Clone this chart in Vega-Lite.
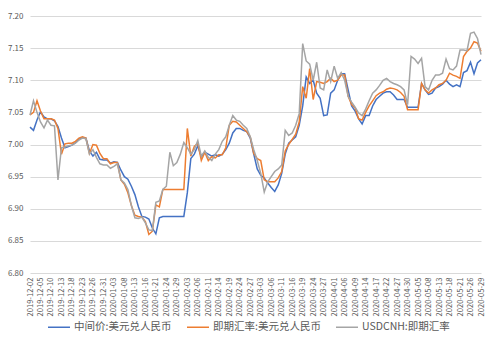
{
  "$schema": "https://vega.github.io/schema/vega-lite/v6.json",
  "width": 451,
  "height": 257,
  "autosize": {"type": "none"},
  "padding": {"left": 30, "top": 16, "right": 18, "bottom": 78},
  "background": "white",
  "config": {"view": {"stroke": null}, "font": "Noto Sans CJK SC"},
  "data": {"values": [
    {"日期":"2019-12-02","中间价:美元兑人民币":7.027,"即期汇率:美元兑人民币":7.046,"USDCNH:即期汇率":7.046},
    {"日期":"2019-12-03","中间价:美元兑人民币":7.022,"即期汇率:美元兑人民币":7.050,"USDCNH:即期汇率":7.068},
    {"日期":"2019-12-04","中间价:美元兑人民币":7.038,"即期汇率:美元兑人民币":7.068,"USDCNH:即期汇率":7.050},
    {"日期":"2019-12-05","中间价:美元兑人民币":7.051,"即期汇率:美元兑人民币":7.052,"USDCNH:即期汇率":7.035},
    {"日期":"2019-12-06","中间价:美元兑人民币":7.043,"即期汇率:美元兑人民币":7.040,"USDCNH:即期汇率":7.026},
    {"日期":"2019-12-09","中间价:美元兑人民币":7.040,"即期汇率:美元兑人民币":7.040,"USDCNH:即期汇率":7.038},
    {"日期":"2019-12-10","中间价:美元兑人民币":7.040,"即期汇率:美元兑人民币":7.040,"USDCNH:即期汇率":7.030},
    {"日期":"2019-12-11","中间价:美元兑人民币":7.037,"即期汇率:美元兑人民币":7.038,"USDCNH:即期汇率":7.029},
    {"日期":"2019-12-12","中间价:美元兑人民币":7.028,"即期汇率:美元兑人民币":7.025,"USDCNH:即期汇率":6.945},
    {"日期":"2019-12-13","中间价:美元兑人民币":7.010,"即期汇率:美元兑人民币":6.985,"USDCNH:即期汇率":6.995},
    {"日期":"2019-12-16","中间价:美元兑人民币":6.995,"即期汇率:美元兑人民币":7.001,"USDCNH:即期汇率":6.996},
    {"日期":"2019-12-17","中间价:美元兑人民币":6.997,"即期汇率:美元兑人民币":7.002,"USDCNH:即期汇率":6.998},
    {"日期":"2019-12-18","中间价:美元兑人民币":6.999,"即期汇率:美元兑人民币":7.002,"USDCNH:即期汇率":6.999},
    {"日期":"2019-12-19","中间价:美元兑人民币":7.003,"即期汇率:美元兑人民币":7.005,"USDCNH:即期汇率":7.002},
    {"日期":"2019-12-20","中间价:美元兑人民币":7.008,"即期汇率:美元兑人民币":7.010,"USDCNH:即期汇率":7.007},
    {"日期":"2019-12-23","中间价:美元兑人民币":7.011,"即期汇率:美元兑人民币":7.012,"USDCNH:即期汇率":7.010},
    {"日期":"2019-12-24","中间价:美元兑人民币":7.010,"即期汇率:美元兑人民币":7.010,"USDCNH:即期汇率":7.009},
    {"日期":"2019-12-25","中间价:美元兑人民币":6.990,"即期汇率:美元兑人民币":6.986,"USDCNH:即期汇率":6.985},
    {"日期":"2019-12-26","中间价:美元兑人民币":6.982,"即期汇率:美元兑人民币":7.000,"USDCNH:即期汇率":6.992},
    {"日期":"2019-12-27","中间价:美元兑人民币":6.988,"即期汇率:美元兑人民币":6.999,"USDCNH:即期汇率":6.980},
    {"日期":"2019-12-30","中间价:美元兑人民币":6.977,"即期汇率:美元兑人民币":6.986,"USDCNH:即期汇率":6.970},
    {"日期":"2019-12-31","中间价:美元兑人民币":6.976,"即期汇率:美元兑人民币":6.978,"USDCNH:即期汇率":6.968},
    {"日期":"2020-01-01","中间价:美元兑人民币":6.976,"即期汇率:美元兑人民币":6.978,"USDCNH:即期汇率":6.968},
    {"日期":"2020-01-02","中间价:美元兑人民币":6.971,"即期汇率:美元兑人民币":6.970,"USDCNH:即期汇率":6.963},
    {"日期":"2020-01-03","中间价:美元兑人民币":6.973,"即期汇率:美元兑人民币":6.972,"USDCNH:即期汇率":6.966},
    {"日期":"2020-01-06","中间价:美元兑人民币":6.972,"即期汇率:美元兑人民币":6.972,"USDCNH:即期汇率":6.970},
    {"日期":"2020-01-07","中间价:美元兑人民币":6.960,"即期汇率:美元兑人民币":6.945,"USDCNH:即期汇率":6.945},
    {"日期":"2020-01-08","中间价:美元兑人民币":6.950,"即期汇率:美元兑人民币":6.938,"USDCNH:即期汇率":6.940},
    {"日期":"2020-01-09","中间价:美元兑人民币":6.946,"即期汇率:美元兑人民币":6.925,"USDCNH:即期汇率":6.930},
    {"日期":"2020-01-10","中间价:美元兑人民币":6.935,"即期汇率:美元兑人民币":6.905,"USDCNH:即期汇率":6.905},
    {"日期":"2020-01-13","中间价:美元兑人民币":6.922,"即期汇率:美元兑人民币":6.890,"USDCNH:即期汇率":6.886},
    {"日期":"2020-01-14","中间价:美元兑人民币":6.903,"即期汇率:美元兑人民币":6.888,"USDCNH:即期汇率":6.885},
    {"日期":"2020-01-15","中间价:美元兑人民币":6.888,"即期汇率:美元兑人民币":6.887,"USDCNH:即期汇率":6.887},
    {"日期":"2020-01-16","中间价:美元兑人民币":6.887,"即期汇率:美元兑人民币":6.880,"USDCNH:即期汇率":6.878},
    {"日期":"2020-01-17","中间价:美元兑人民币":6.884,"即期汇率:美元兑人民币":6.860,"USDCNH:即期汇率":6.867},
    {"日期":"2020-01-20","中间价:美元兑人民币":6.870,"即期汇率:美元兑人民币":6.865,"USDCNH:即期汇率":6.866},
    {"日期":"2020-01-21","中间价:美元兑人民币":6.861,"即期汇率:美元兑人民币":6.906,"USDCNH:即期汇率":6.910},
    {"日期":"2020-01-22","中间价:美元兑人民币":6.886,"即期汇率:美元兑人民币":6.903,"USDCNH:即期汇率":6.912},
    {"日期":"2020-01-23","中间价:美元兑人民币":6.888,"即期汇率:美元兑人民币":6.930,"USDCNH:即期汇率":6.930},
    {"日期":"2020-01-24","中间价:美元兑人民币":6.888,"即期汇率:美元兑人民币":6.930,"USDCNH:即期汇率":6.935},
    {"日期":"2020-01-27","中间价:美元兑人民币":6.888,"即期汇率:美元兑人民币":6.930,"USDCNH:即期汇率":6.988},
    {"日期":"2020-01-28","中间价:美元兑人民币":6.888,"即期汇率:美元兑人民币":6.930,"USDCNH:即期汇率":6.967},
    {"日期":"2020-01-29","中间价:美元兑人民币":6.888,"即期汇率:美元兑人民币":6.930,"USDCNH:即期汇率":6.972},
    {"日期":"2020-01-30","中间价:美元兑人民币":6.888,"即期汇率:美元兑人民币":6.930,"USDCNH:即期汇率":6.985},
    {"日期":"2020-01-31","中间价:美元兑人民币":6.888,"即期汇率:美元兑人民币":6.930,"USDCNH:即期汇率":7.003},
    {"日期":"2020-02-03","中间价:美元兑人民币":6.925,"即期汇率:美元兑人民币":7.025,"USDCNH:即期汇率":6.995},
    {"日期":"2020-02-04","中间价:美元兑人民币":6.978,"即期汇率:美元兑人民币":6.982,"USDCNH:即期汇率":6.985},
    {"日期":"2020-02-05","中间价:美元兑人民币":6.985,"即期汇率:美元兑人民币":6.997,"USDCNH:即期汇率":6.992},
    {"日期":"2020-02-06","中间价:美元兑人民币":6.998,"即期汇率:美元兑人民币":7.002,"USDCNH:即期汇率":7.006},
    {"日期":"2020-02-07","中间价:美元兑人民币":6.981,"即期汇率:美元兑人民币":6.975,"USDCNH:即期汇率":6.982},
    {"日期":"2020-02-10","中间价:美元兑人民币":6.988,"即期汇率:美元兑人民币":6.988,"USDCNH:即期汇率":6.990},
    {"日期":"2020-02-11","中间价:美元兑人民币":6.985,"即期汇率:美元兑人民币":6.975,"USDCNH:即期汇率":6.980},
    {"日期":"2020-02-12","中间价:美元兑人民币":6.982,"即期汇率:美元兑人民币":6.981,"USDCNH:即期汇率":6.975},
    {"日期":"2020-02-13","中间价:美元兑人民币":6.984,"即期汇率:美元兑人民币":6.979,"USDCNH:即期汇率":6.985},
    {"日期":"2020-02-14","中间价:美元兑人民币":6.982,"即期汇率:美元兑人民币":6.984,"USDCNH:即期汇率":6.992},
    {"日期":"2020-02-17","中间价:美元兑人民币":6.985,"即期汇率:美元兑人民币":6.984,"USDCNH:即期汇率":7.005},
    {"日期":"2020-02-18","中间价:美元兑人民币":6.992,"即期汇率:美元兑人民币":6.995,"USDCNH:即期汇率":7.012},
    {"日期":"2020-02-19","中间价:美元兑人民币":7.002,"即期汇率:美元兑人民币":7.030,"USDCNH:即期汇率":7.030},
    {"日期":"2020-02-20","中间价:美元兑人民币":7.018,"即期汇率:美元兑人民币":7.036,"USDCNH:即期汇率":7.045},
    {"日期":"2020-02-21","中间价:美元兑人民币":7.025,"即期汇率:美元兑人民币":7.035,"USDCNH:即期汇率":7.038},
    {"日期":"2020-02-24","中间价:美元兑人民币":7.025,"即期汇率:美元兑人民币":7.030,"USDCNH:即期汇率":7.036},
    {"日期":"2020-02-25","中间价:美元兑人民币":7.022,"即期汇率:美元兑人民币":7.025,"USDCNH:即期汇率":7.030},
    {"日期":"2020-02-26","中间价:美元兑人民币":7.020,"即期汇率:美元兑人民币":7.020,"USDCNH:即期汇率":7.025},
    {"日期":"2020-02-27","中间价:美元兑人民币":7.010,"即期汇率:美元兑人民币":7.012,"USDCNH:即期汇率":7.012},
    {"日期":"2020-02-28","中间价:美元兑人民币":6.985,"即期汇率:美元兑人民币":6.986,"USDCNH:即期汇率":6.992},
    {"日期":"2020-03-02","中间价:美元兑人民币":6.962,"即期汇率:美元兑人民币":6.978,"USDCNH:即期汇率":6.975},
    {"日期":"2020-03-03","中间价:美元兑人民币":6.952,"即期汇率:美元兑人民币":6.975,"USDCNH:即期汇率":6.955},
    {"日期":"2020-03-04","中间价:美元兑人民币":6.948,"即期汇率:美元兑人民币":6.945,"USDCNH:即期汇率":6.926},
    {"日期":"2020-03-05","中间价:美元兑人民币":6.940,"即期汇率:美元兑人民币":6.942,"USDCNH:即期汇率":6.942},
    {"日期":"2020-03-06","中间价:美元兑人民币":6.933,"即期汇率:美元兑人民币":6.942,"USDCNH:即期汇率":6.950},
    {"日期":"2020-03-09","中间价:美元兑人民币":6.927,"即期汇率:美元兑人民币":6.942,"USDCNH:即期汇率":6.958},
    {"日期":"2020-03-10","中间价:美元兑人民币":6.937,"即期汇率:美元兑人民币":6.948,"USDCNH:即期汇率":6.962},
    {"日期":"2020-03-11","中间价:美元兑人民币":6.955,"即期汇率:美元兑人民币":6.958,"USDCNH:即期汇率":6.968},
    {"日期":"2020-03-12","中间价:美元兑人民币":6.985,"即期汇率:美元兑人民币":6.990,"USDCNH:即期汇率":7.022},
    {"日期":"2020-03-13","中间价:美元兑人民币":7.002,"即期汇率:美元兑人民币":7.000,"USDCNH:即期汇率":7.014},
    {"日期":"2020-03-16","中间价:美元兑人民币":7.007,"即期汇率:美元兑人民币":7.008,"USDCNH:即期汇率":7.018},
    {"日期":"2020-03-17","中间价:美元兑人民币":7.012,"即期汇率:美元兑人民币":7.016,"USDCNH:即期汇率":7.030},
    {"日期":"2020-03-18","中间价:美元兑人民币":7.030,"即期汇率:美元兑人民币":7.035,"USDCNH:即期汇率":7.048},
    {"日期":"2020-03-19","中间价:美元兑人民币":7.060,"即期汇率:美元兑人民币":7.090,"USDCNH:即期汇率":7.157},
    {"日期":"2020-03-20","中间价:美元兑人民币":7.105,"即期汇率:美元兑人民币":7.072,"USDCNH:即期汇率":7.130},
    {"日期":"2020-03-23","中间价:美元兑人民币":7.095,"即期汇率:美元兑人民币":7.118,"USDCNH:即期汇率":7.125},
    {"日期":"2020-03-24","中间价:美元兑人民币":7.100,"即期汇率:美元兑人民币":7.070,"USDCNH:即期汇率":7.100},
    {"日期":"2020-03-25","中间价:美元兑人民币":7.080,"即期汇率:美元兑人民币":7.098,"USDCNH:即期汇率":7.128},
    {"日期":"2020-03-26","中间价:美元兑人民币":7.072,"即期汇率:美元兑人民币":7.097,"USDCNH:即期汇率":7.088},
    {"日期":"2020-03-27","中间价:美元兑人民币":7.045,"即期汇率:美元兑人民币":7.095,"USDCNH:即期汇率":7.085},
    {"日期":"2020-03-30","中间价:美元兑人民币":7.046,"即期汇率:美元兑人民币":7.098,"USDCNH:即期汇率":7.116},
    {"日期":"2020-03-31","中间价:美元兑人民币":7.080,"即期汇率:美元兑人民币":7.103,"USDCNH:即期汇率":7.098},
    {"日期":"2020-04-01","中间价:美元兑人民币":7.085,"即期汇率:美元兑人民币":7.098,"USDCNH:即期汇率":7.122},
    {"日期":"2020-04-02","中间价:美元兑人民币":7.100,"即期汇率:美元兑人民币":7.100,"USDCNH:即期汇率":7.103},
    {"日期":"2020-04-03","中间价:美元兑人民币":7.110,"即期汇率:美元兑人民币":7.108,"USDCNH:即期汇率":7.112},
    {"日期":"2020-04-06","中间价:美元兑人民币":7.110,"即期汇率:美元兑人民币":7.108,"USDCNH:即期汇率":7.100},
    {"日期":"2020-04-07","中间价:美元兑人民币":7.085,"即期汇率:美元兑人民币":7.075,"USDCNH:即期汇率":7.075},
    {"日期":"2020-04-08","中间价:美元兑人民币":7.060,"即期汇率:美元兑人民币":7.062,"USDCNH:即期汇率":7.066},
    {"日期":"2020-04-09","中间价:美元兑人民币":7.052,"即期汇率:美元兑人民币":7.057,"USDCNH:即期汇率":7.058},
    {"日期":"2020-04-10","中间价:美元兑人民币":7.040,"即期汇率:美元兑人民币":7.040,"USDCNH:即期汇率":7.049},
    {"日期":"2020-04-13","中间价:美元兑人民币":7.032,"即期汇率:美元兑人民币":7.038,"USDCNH:即期汇率":7.045},
    {"日期":"2020-04-14","中间价:美元兑人民币":7.045,"即期汇率:美元兑人民币":7.050,"USDCNH:即期汇率":7.055},
    {"日期":"2020-04-15","中间价:美元兑人民币":7.045,"即期汇率:美元兑人民币":7.060,"USDCNH:即期汇率":7.068},
    {"日期":"2020-04-16","中间价:美元兑人民币":7.060,"即期汇率:美元兑人民币":7.068,"USDCNH:即期汇率":7.080},
    {"日期":"2020-04-17","中间价:美元兑人民币":7.070,"即期汇率:美元兑人民币":7.076,"USDCNH:即期汇率":7.085},
    {"日期":"2020-04-20","中间价:美元兑人民币":7.075,"即期汇率:美元兑人民币":7.080,"USDCNH:即期汇率":7.092},
    {"日期":"2020-04-21","中间价:美元兑人民币":7.080,"即期汇率:美元兑人民币":7.082,"USDCNH:即期汇率":7.100},
    {"日期":"2020-04-22","中间价:美元兑人民币":7.082,"即期汇率:美元兑人民币":7.086,"USDCNH:即期汇率":7.103},
    {"日期":"2020-04-23","中间价:美元兑人民币":7.082,"即期汇率:美元兑人民币":7.088,"USDCNH:即期汇率":7.098},
    {"日期":"2020-04-24","中间价:美元兑人民币":7.077,"即期汇率:美元兑人民币":7.087,"USDCNH:即期汇率":7.095},
    {"日期":"2020-04-27","中间价:美元兑人民币":7.070,"即期汇率:美元兑人民币":7.085,"USDCNH:即期汇率":7.093},
    {"日期":"2020-04-28","中间价:美元兑人民币":7.070,"即期汇率:美元兑人民币":7.081,"USDCNH:即期汇率":7.090},
    {"日期":"2020-04-29","中间价:美元兑人民币":7.070,"即期汇率:美元兑人民币":7.075,"USDCNH:即期汇率":7.085},
    {"日期":"2020-04-30","中间价:美元兑人民币":7.058,"即期汇率:美元兑人民币":7.054,"USDCNH:即期汇率":7.062},
    {"日期":"2020-05-01","中间价:美元兑人民币":7.058,"即期汇率:美元兑人民币":7.054,"USDCNH:即期汇率":7.137},
    {"日期":"2020-05-04","中间价:美元兑人民币":7.058,"即期汇率:美元兑人民币":7.054,"USDCNH:即期汇率":7.133},
    {"日期":"2020-05-05","中间价:美元兑人民币":7.058,"即期汇率:美元兑人民币":7.054,"USDCNH:即期汇率":7.126},
    {"日期":"2020-05-06","中间价:美元兑人民币":7.095,"即期汇率:美元兑人民币":7.095,"USDCNH:即期汇率":7.134},
    {"日期":"2020-05-07","中间价:美元兑人民币":7.085,"即期汇率:美元兑人民币":7.085,"USDCNH:即期汇率":7.090},
    {"日期":"2020-05-08","中间价:美元兑人民币":7.078,"即期汇率:美元兑人民币":7.080,"USDCNH:即期汇率":7.085},
    {"日期":"2020-05-11","中间价:美元兑人民币":7.080,"即期汇率:美元兑人民币":7.085,"USDCNH:即期汇率":7.100},
    {"日期":"2020-05-12","中间价:美元兑人民币":7.088,"即期汇率:美元兑人民币":7.088,"USDCNH:即期汇率":7.108},
    {"日期":"2020-05-13","中间价:美元兑人民币":7.090,"即期汇率:美元兑人民币":7.093,"USDCNH:即期汇率":7.108},
    {"日期":"2020-05-14","中间价:美元兑人民币":7.094,"即期汇率:美元兑人民币":7.095,"USDCNH:即期汇率":7.111},
    {"日期":"2020-05-15","中间价:美元兑人民币":7.100,"即期汇率:美元兑人民币":7.100,"USDCNH:即期汇率":7.133},
    {"日期":"2020-05-18","中间价:美元兑人民币":7.094,"即期汇率:美元兑人民币":7.111,"USDCNH:即期汇率":7.118},
    {"日期":"2020-05-19","中间价:美元兑人民币":7.090,"即期汇率:美元兑人民币":7.108,"USDCNH:即期汇率":7.116},
    {"日期":"2020-05-20","中间价:美元兑人民币":7.093,"即期汇率:美元兑人民币":7.106,"USDCNH:即期汇率":7.122},
    {"日期":"2020-05-21","中间价:美元兑人民币":7.090,"即期汇率:美元兑人民币":7.103,"USDCNH:即期汇率":7.147},
    {"日期":"2020-05-22","中间价:美元兑人民币":7.112,"即期汇率:美元兑人民币":7.137,"USDCNH:即期汇率":7.147},
    {"日期":"2020-05-25","中间价:美元兑人民币":7.115,"即期汇率:美元兑人民币":7.145,"USDCNH:即期汇率":7.146},
    {"日期":"2020-05-26","中间价:美元兑人民币":7.128,"即期汇率:美元兑人民币":7.150,"USDCNH:即期汇率":7.173},
    {"日期":"2020-05-27","中间价:美元兑人民币":7.110,"即期汇率:美元兑人民币":7.160,"USDCNH:即期汇率":7.175},
    {"日期":"2020-05-28","中间价:美元兑人民币":7.127,"即期汇率:美元兑人民币":7.158,"USDCNH:即期汇率":7.165},
    {"日期":"2020-05-29","中间价:美元兑人民币":7.132,"即期汇率:美元兑人民币":7.145,"USDCNH:即期汇率":7.140}
  ]},
  "transform": [
    {"fold": ["中间价:美元兑人民币", "即期汇率:美元兑人民币", "USDCNH:即期汇率"], "as": ["系列", "值"]}
  ],
  "mark": {"type": "line", "strokeWidth": 1.5},
  "encoding": {
    "x": {
      "field": "日期", "type": "ordinal",
      "scale": {"type": "point", "padding": 0},
      "axis": {
        "values": ["2019-12-02","2019-12-05","2019-12-10","2019-12-13","2019-12-18","2019-12-23","2019-12-26","2019-12-31","2020-01-03","2020-01-08","2020-01-13","2020-01-16","2020-01-21","2020-01-24","2020-01-29","2020-02-03","2020-02-06","2020-02-11","2020-02-14","2020-02-19","2020-02-24","2020-02-27","2020-03-03","2020-03-06","2020-03-11","2020-03-16","2020-03-19","2020-03-24","2020-03-27","2020-04-01","2020-04-06","2020-04-09","2020-04-14","2020-04-17","2020-04-22","2020-04-27","2020-04-30","2020-05-05","2020-05-08","2020-05-13","2020-05-18","2020-05-21","2020-05-26","2020-05-29"],
        "labelAngle": -90, "labelFontSize": 7.6, "labelColor": "#595959", "labelPadding": 4,
        "ticks": false, "tickSize": 0, "domain": false, "grid": false, "title": null,
        "labelOverlap": false, "labelBound": false
      }
    },
    "y": {
      "field": "值", "type": "quantitative",
      "scale": {"domain": [6.8, 7.2], "zero": false, "nice": false},
      "axis": {
        "values": [6.8, 6.85, 6.9, 6.95, 7.0, 7.05, 7.1, 7.15, 7.2],
        "format": ".2f", "labelFontSize": 8, "labelColor": "#595959", "labelPadding": 7,
        "ticks": false, "tickSize": 0, "domain": false, "grid": true,
        "gridColor": "#D9D9D9", "gridWidth": 1, "title": null
      }
    },
    "color": {
      "field": "系列", "type": "nominal",
      "scale": {"domain": ["中间价:美元兑人民币", "即期汇率:美元兑人民币", "USDCNH:即期汇率"], "range": ["#4472C4", "#ED7D31", "#A5A5A5"]},
      "legend": {
        "orient": "none", "legendX": 17, "legendY": 299, "direction": "horizontal", "title": null,
        "symbolType": "stroke", "symbolSize": 484, "symbolStrokeWidth": 1.5,
        "labelFontSize": 10.5, "labelColor": "#595959", "columnPadding": 12, "labelOffset": 3
      }
    }
  }
}
